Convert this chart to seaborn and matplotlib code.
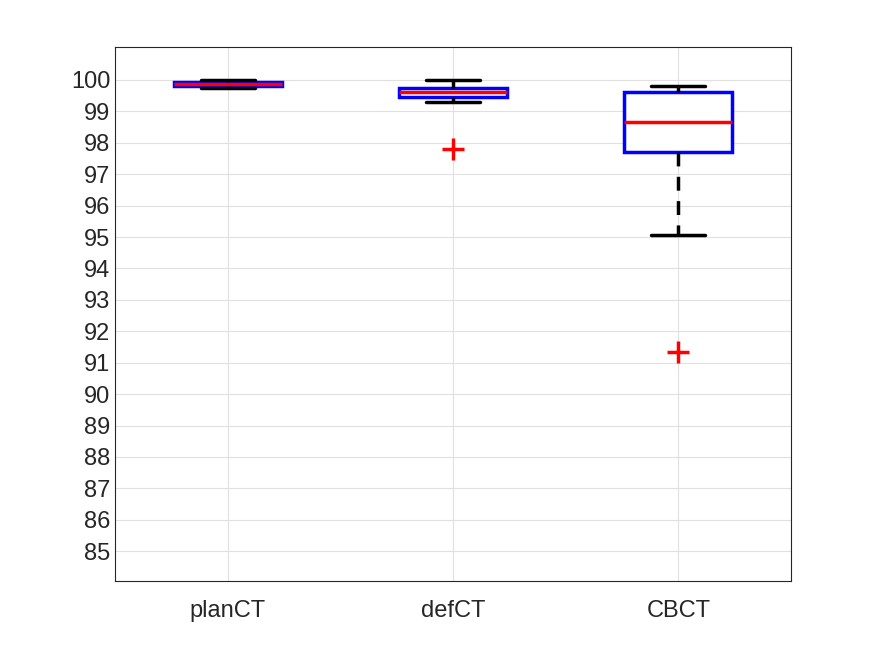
import numpy as np
import pandas as pd
import matplotlib
matplotlib.use("Agg")
import matplotlib.pyplot as plt
import seaborn as sns

# values (9 samples each so quartiles land on points)
plan_ct = [99.75, 99.78, 99.80, 99.85, 99.88, 99.90, 99.95, 99.98, 100.0]
def_ct = [97.8, 99.30, 99.45, 99.50, 99.62, 99.70, 99.75, 99.90, 100.0]
cbct = [91.35, 95.05, 97.72, 98.20, 98.67, 99.20, 99.62, 99.70, 99.81]
groups = ["planCT", "defCT", "CBCT"]
y_ticks = list(range(85, 101))

df = pd.DataFrame({
    "group": np.repeat(groups, 9),
    "value": plan_ct + def_ct + cbct,
})

sns.set_style("white")
plt.rcParams["font.family"] = ["Liberation Sans", "DejaVu Sans"]

fig = plt.figure(figsize=(8.75, 6.56), dpi=100)
ax = fig.add_axes([115 / 875, 1 - 581 / 656, 676 / 875, 534 / 656])

sns.boxplot(data=df, x="group", y="value", order=groups, ax=ax, width=0.48,
            whis=1.5,
            boxprops=dict(facecolor="white", edgecolor="blue", linewidth=2.5),
            medianprops=dict(color="red", linewidth=2.5),
            whiskerprops=dict(color="black", linewidth=2.5, linestyle=(0, (4, 3))),
            capprops=dict(color="black", linewidth=2.5),
            flierprops=dict(marker="+", markeredgecolor="red", markersize=16,
                            markeredgewidth=2.5))

ax.set_xlim(-0.5, 2.5)
ax.set_ylim(84.05, 101.05)
ax.set_yticks(y_ticks)
ax.set_xlabel("")
ax.set_ylabel("")
ax.grid(True, color="#e0e0e0", linewidth=0.8)
ax.set_axisbelow(True)
ax.tick_params(direction="in", labelsize=17, colors="#262626", length=5)
ax.tick_params(axis="x", pad=14)
for s in ax.spines.values():
    s.set_color("#262626")
    s.set_linewidth(0.8)

fig.savefig("out.png", dpi=100)
